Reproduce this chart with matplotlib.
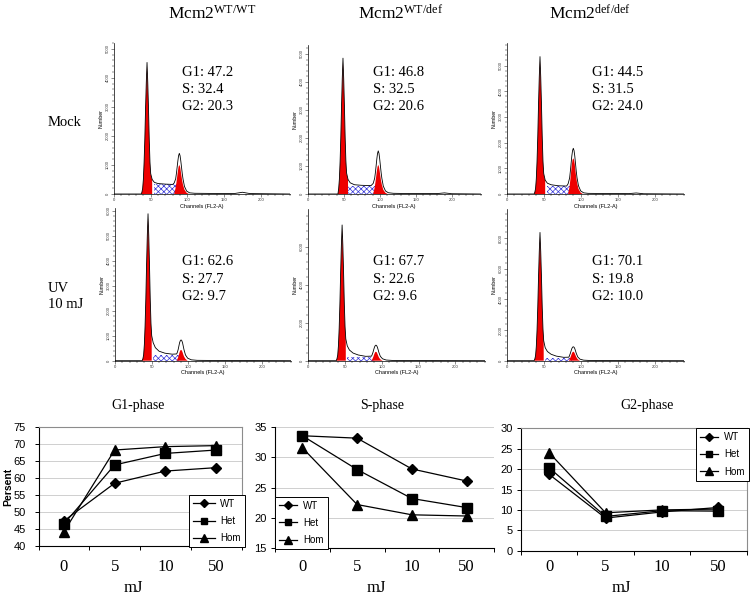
import numpy as np
import matplotlib
matplotlib.use("Agg")
import matplotlib.pyplot as plt
import matplotlib.transforms as mtransforms
from matplotlib.ticker import MultipleLocator

plt.rcParams.update({
    "font.family": "Liberation Sans",
    "mathtext.fontset": "custom",
    "mathtext.rm": "Liberation Serif",
    "mathtext.it": "Liberation Serif:italic",
    "mathtext.bf": "Liberation Serif:bold",
    "hatch.linewidth": 0.5,
})
SERIF = "Liberation Serif"
RED = "#ee0000"
BLUE = "#3434d8"
GRIDC = "#c8c8c8"
BOXC = "#8c8c8c"

# ---- flow histograms (channel, count) ----
wt_mock_ch = [0, 37, 38, 39, 40, 41, 42, 43, 44, 45, 46, 47, 48, 49, 50, 52, 55, 60, 70, 80, 82, 84, 85, 86, 87, 88, 89, 90, 91, 92, 93, 94, 96, 99, 103, 110, 130, 165, 175, 185, 240]
wt_mock_n = [0, 0, 60, 180, 500, 1090, 1900, 2950, 3850, 4530, 3850, 2950, 1900, 1100, 700, 500, 400, 360, 340, 330, 380, 520, 700, 920, 1140, 1320, 1400, 1320, 1140, 920, 700, 520, 260, 100, 40, 25, 20, 20, 60, 15, 0]
wt_mock_g2_ch = [82, 84, 85, 86, 87, 88, 89, 90, 91, 92, 93, 94, 96, 99, 102]
wt_mock_g2_n = [0, 220, 380, 580, 780, 940, 1000, 940, 780, 600, 450, 320, 150, 40, 0]

het_mock_ch = [0, 42, 43, 44, 45, 46, 47, 48, 49, 50, 51, 52, 53, 54, 56, 59, 65, 75, 88, 91, 93, 94, 95, 96, 97, 98, 99, 100, 101, 102, 103, 105, 108, 112, 119, 140, 180, 190, 200, 240]
het_mock_n = [0, 0, 190, 530, 1160, 2040, 3150, 4120, 4850, 4120, 3150, 2040, 1200, 750, 520, 400, 330, 310, 300, 380, 560, 760, 1000, 1250, 1450, 1540, 1450, 1250, 1000, 760, 560, 280, 110, 45, 25, 15, 15, 40, 10, 0]
het_mock_g2_ch = [91, 93, 94, 95, 96, 97, 98, 99, 100, 101, 102, 103, 105, 108, 111]
het_mock_g2_n = [0, 230, 400, 600, 810, 970, 1040, 970, 810, 620, 460, 330, 150, 40, 0]

hom_mock_ch = [0, 37, 38, 39, 40, 41, 42, 43, 44, 45, 46, 47, 48, 49, 50, 52, 55, 60, 70, 81, 83, 85, 86, 87, 88, 89, 90, 91, 92, 93, 94, 95, 97, 100, 104, 110, 130, 165, 175, 185, 240]
hom_mock_n = [0, 0, 70, 210, 590, 1280, 2250, 3480, 4550, 5350, 4550, 3480, 2250, 1300, 800, 540, 420, 360, 320, 310, 400, 620, 880, 1180, 1480, 1690, 1780, 1690, 1480, 1180, 880, 640, 320, 120, 45, 25, 20, 15, 40, 10, 0]
hom_mock_g2_ch = [83, 85, 86, 87, 88, 89, 90, 91, 92, 93, 94, 95, 97, 100, 103]
hom_mock_g2_n = [0, 300, 550, 850, 1150, 1330, 1390, 1330, 1150, 880, 640, 450, 200, 50, 0]

wt_uv_ch = [0, 37, 38, 39, 40, 41, 42, 43, 44, 45, 46, 47, 48, 49, 50, 52, 55, 60, 68, 78, 84, 85, 86, 87, 88, 89, 90, 91, 92, 93, 94, 96, 99, 104, 112, 130, 240]
wt_uv_n = [0, 0, 80, 230, 650, 1410, 2470, 3820, 4990, 5870, 4990, 3820, 2470, 1500, 1000, 720, 520, 380, 300, 260, 270, 340, 440, 580, 720, 800, 830, 800, 720, 580, 440, 230, 100, 35, 15, 10, 0]
wt_uv_g2_ch = [84, 86, 87, 88, 89, 90, 91, 92, 93, 94, 96, 99]
wt_uv_g2_n = [0, 130, 230, 340, 410, 430, 410, 340, 250, 170, 70, 0]

het_uv_ch = [0, 38, 39, 40, 41, 42, 43, 44, 45, 46, 47, 48, 49, 50, 51, 53, 56, 61, 68, 78, 86, 87, 88, 89, 90, 91, 92, 93, 94, 95, 96, 98, 101, 106, 114, 130, 240]
het_uv_n = [0, 0, 100, 290, 790, 1710, 3000, 4640, 6070, 7140, 6070, 4640, 3000, 1800, 1150, 780, 560, 400, 300, 230, 240, 330, 440, 580, 710, 790, 820, 790, 710, 580, 440, 230, 100, 35, 15, 10, 0]
het_uv_g2_ch = [86, 88, 89, 90, 91, 92, 93, 94, 95, 96, 98, 101]
het_uv_g2_n = [0, 150, 260, 370, 450, 470, 450, 370, 270, 180, 70, 0]

hom_uv_ch = [0, 37, 38, 39, 40, 41, 42, 43, 44, 45, 46, 47, 48, 49, 50, 52, 55, 60, 67, 77, 84, 85, 86, 87, 88, 89, 90, 91, 92, 93, 94, 96, 99, 104, 112, 130, 240]
hom_uv_n = [0, 0, 110, 330, 920, 2000, 3520, 5440, 7110, 8370, 7110, 5440, 3520, 2100, 1300, 850, 600, 420, 300, 220, 230, 350, 480, 640, 790, 880, 910, 880, 790, 640, 480, 250, 100, 35, 15, 10, 0]
hom_uv_g2_ch = [84, 86, 87, 88, 89, 90, 91, 92, 93, 94, 96, 99]
hom_uv_g2_n = [0, 200, 330, 470, 560, 590, 560, 470, 350, 240, 90, 0]

# gate windows: G1 start, G1 end, S end, S-phase level
wt_mock_win = [37, 53, 88, 330]
het_mock_win = [42, 56, 96, 300]
hom_mock_win = [37, 53, 88, 310]
wt_uv_win = [37, 51, 88, 230]
het_uv_win = [38, 52, 90, 210]
hom_uv_win = [37, 51, 88, 180]

# G1 / S / G2 percentages printed on each histogram
wt_mock_stats = [47.2, 32.4, 20.3]
het_mock_stats = [46.8, 32.5, 20.6]
hom_mock_stats = [44.5, 31.5, 24.0]
wt_uv_stats = [62.6, 27.7, 9.7]
het_uv_stats = [67.7, 22.6, 9.6]
hom_uv_stats = [70.1, 19.8, 10.0]

genotypes = [r"Mcm2$^{\mathrm{WT/WT}}$", r"Mcm2$^{\mathrm{WT/def}}$", r"Mcm2$^{\mathrm{def/def}}$"]

# ---- dose response ----
doses = ["0", "5", "10", "50"]
g1_wt = [47.4, 58.5, 62.1, 63.1]
g1_het = [46.5, 63.9, 67.3, 68.3]
g1_hom = [44.2, 68.3, 69.3, 69.6]
s_wt = [33.6, 33.2, 28.1, 26.1]
s_het = [33.6, 28.0, 23.2, 21.7]
s_hom = [31.6, 22.2, 20.5, 20.3]
g2_wt = [18.7, 8.0, 9.5, 10.6]
g2_het = [20.3, 8.4, 9.8, 9.7]
g2_hom = [24.0, 9.3, 10.0, 10.2]

W, H = 753, 596
fig = plt.figure(figsize=(W / 100, H / 100), dpi=100)


def px_axes(l, t, r, b):
    return fig.add_axes([l / W, 1 - b / H, (r - l) / W, (b - t) / H])


def ftext(x, y, s, **kw):
    fig.text(x / W, 1 - y / H, s, **kw)


def histogram(x0, scale, top, bottom, ymax, step, ch, n, g2_ch, g2_n, win, stats, tx, ty):
    ax = px_axes(x0, top, x0 + 240 * scale, bottom)
    ch = np.asarray(ch, float)
    n = np.asarray(n, float)
    g1_lo, g1_hi, s_hi, s_lvl = win
    sel = (ch >= g1_lo) & (ch <= g1_hi)
    ax.fill_between(ch[sel], n[sel] * 0.97, facecolor=RED, lw=0, zorder=2)
    sel = (ch >= g1_hi) & (ch <= s_hi)
    ax.fill_between(ch[sel], np.minimum(n[sel], s_lvl), facecolor="white",
                    edgecolor=BLUE, hatch="xxxxxx", lw=0, zorder=1)
    ax.fill_between(g2_ch, g2_n, facecolor=RED, lw=0, zorder=2)
    ax.plot(ch, n, color="black", lw=0.6, zorder=3)
    ax.set_xlim(0, 240)
    ax.set_ylim(0, ymax)
    for s in ("top", "right"):
        ax.spines[s].set_visible(False)
    for s in ("left", "bottom"):
        ax.spines[s].set_linewidth(0.5)
    ax.set_facecolor("none")
    ax.xaxis.set_major_locator(MultipleLocator(50))
    ax.xaxis.set_minor_locator(MultipleLocator(10))
    ax.yaxis.set_major_locator(MultipleLocator(step))
    ax.yaxis.set_minor_locator(MultipleLocator(step / 5))
    ax.tick_params(which="major", length=2, width=0.4, labelsize=3, pad=1, colors="#333333")
    ax.tick_params(which="minor", length=1.2, width=0.3)
    plt.setp(ax.get_yticklabels(), rotation=90, va="center")
    ax.set_xlabel("Channels (FL2-A)", fontsize=4, labelpad=1)
    ax.set_ylabel("Number", fontsize=3.8, labelpad=1.5)
    labels = ["G1: ", "S: ", "G2: "]
    for i, (lab, v) in enumerate(zip(labels, stats)):
        ftext(tx, ty + i * 17.5, lab + "{:.1f}".format(v), family=SERIF,
              fontsize=10.5, va="center", ha="left")


row1 = [(114, 0.734, 43, 194, 5200, 1000, wt_mock_ch, wt_mock_n, wt_mock_g2_ch, wt_mock_g2_n, wt_mock_win, wt_mock_stats, 181.7),
        (307.7, 0.72, 45, 194, 5320, 1000, het_mock_ch, het_mock_n, het_mock_g2_ch, het_mock_g2_n, het_mock_win, het_mock_stats, 372.7),
        (506.7, 0.74, 43, 194, 5880, 1000, hom_mock_ch, hom_mock_n, hom_mock_g2_ch, hom_mock_g2_n, hom_mock_win, hom_mock_stats, 591.7)]
row2 = [(115, 0.734, 208, 360.7, 6100, 1000, wt_uv_ch, wt_uv_n, wt_uv_g2_ch, wt_uv_g2_n, wt_uv_win, wt_uv_stats, 181.7),
        (308.3, 0.735, 209, 360.7, 7980, 2000, het_uv_ch, het_uv_n, het_uv_g2_ch, het_uv_g2_n, het_uv_win, het_uv_stats, 372.7),
        (506.7, 0.74, 209, 360.7, 9900, 2000, hom_uv_ch, hom_uv_n, hom_uv_g2_ch, hom_uv_g2_n, hom_uv_win, hom_uv_stats, 591.7)]
for p in row1:
    histogram(*p, ty=72)
for p in row2:
    histogram(*p, ty=261.7)

for x, g in zip([168, 358.3, 549.3], genotypes):
    ftext(x, 14, g, family=SERIF, fontsize=12.5, ha="left", va="center")
ftext(48, 123, "Mock", family=SERIF, fontsize=10.5, va="center")
ftext(48, 288, "UV", family=SERIF, fontsize=10.5, va="center")
ftext(48, 305, "10 mJ", family=SERIF, fontsize=10.5, va="center")


def dose_chart(l, r, t, b, ylim, series, title, title_x, mj_x, box, leg_xy,
               ypad, hlen, ylabel=None):
    ax = px_axes(l, t, r, b)
    x = np.arange(len(doses))
    styles = [("WT", "D", 5.2), ("Het", "s", 6.5), ("Hom", "^", 7.5)]
    for vals, (lab, m, ms) in zip(series, styles):
        ax.plot(x, vals, color="black", lw=0.9, marker=m, ms=ms, label=lab, zorder=3)
    ax.set_xlim(-0.5, len(doses) - 0.5)
    ax.set_ylim(*ylim)
    ax.yaxis.set_major_locator(MultipleLocator(5))
    ax.grid(axis="y", color=GRIDC, lw=0.6, zorder=0)
    ax.set_xticks(x)
    ax.set_xticklabels([])
    ax.set_xticks(np.arange(-0.5, len(doses)), minor=True)
    ax.tick_params(axis="x", which="major", length=0)
    ax.tick_params(axis="x", which="minor", length=3, width=0.7)
    ax.tick_params(axis="y", length=3, width=0.7, labelsize=8, pad=ypad)
    for s in ("left", "bottom"):
        ax.spines[s].set_linewidth(0.8)
    for s in ("top", "right"):
        if box:
            ax.spines[s].set_color(BOXC)
            ax.spines[s].set_linewidth(0.8)
        else:
            ax.spines[s].set_visible(False)
    tr = mtransforms.blended_transform_factory(ax.transData, fig.transFigure)
    for xi, d in zip(x, doses):
        ax.text(xi, 1 - 566.7 / H, d, transform=tr, family=SERIF, fontsize=12,
                ha="center", va="center")
    ftext(mj_x, 588, "mJ", family=SERIF, fontsize=12, ha="center", va="center")
    ftext(title_x, 405, title, family=SERIF, fontsize=10, ha="center", va="center")
    if ylabel:
        ftext(8.5, 487, ylabel, fontsize=7.5, fontweight="bold", rotation=90,
              ha="center", va="center")
    leg = ax.legend(loc="upper left", bbox_to_anchor=(leg_xy[0] / W, 1 - leg_xy[1] / H),
                    bbox_transform=fig.transFigure, fontsize=7, frameon=True,
                    fancybox=False, edgecolor="black", framealpha=1, borderpad=0.4,
                    labelspacing=0.75, handlelength=hlen, handletextpad=0.6,
                    markerscale=0.75, borderaxespad=0)
    leg.get_frame().set_linewidth(0.7)
    return ax


dose_chart(38.5, 241.5, 427.3, 546, (40, 75), [g1_wt, g1_het, g1_hom], "G1-phase",
           138, 133, True, (189.3, 495), 6, 2.2, ylabel="Persent")
dose_chart(275, 494, 427.3, 548, (15, 35), [s_wt, s_het, s_hom], "S-phase",
           381.7, 376.7, False, (275, 496.7), 3, 1.9)
dose_chart(521, 746.5, 428.3, 550.7, (0, 30), [g2_wt, g2_het, g2_hom], "G2-phase",
           646.7, 621.7, True, (696, 428.3), 3, 1.9)

fig.savefig("out.png", dpi=100)
